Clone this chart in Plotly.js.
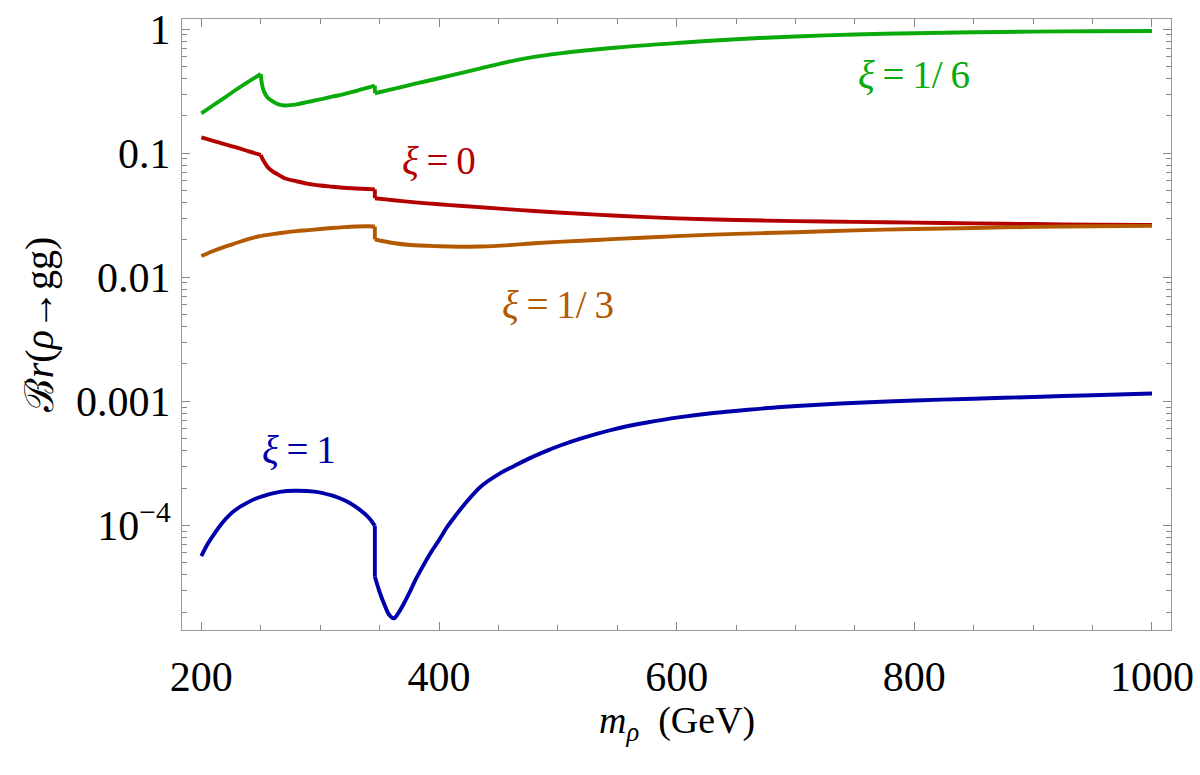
<!DOCTYPE html>
<html>
<head>
<meta charset="utf-8">
<script src="https://cdn.plot.ly/plotly-3.0.1.min.js"></script>
<style>html,body{margin:0;padding:0;background:#fff}#chart{width:1200px;height:775px}</style>
</head>
<body>
<div id="chart"></div>
<script>
// xi = 1/6 (green)
const xGreen = [200,210,220,230,240,250,251,253,256,260,265,270,280,290,300,310,320,330,340,346,346,360,380,400,420,435,460,480,500,550,600,650,700,750,800,850,900,950,1000];
const yGreen = [0.21,0.244,0.283,0.33,0.38,0.436,0.36,0.31,0.28,0.262,0.248,0.243,0.248,0.26,0.272,0.286,0.3,0.318,0.338,0.352,0.305,0.328,0.364,0.403,0.448,0.484,0.551,0.599,0.637,0.713,0.775,0.832,0.875,0.908,0.929,0.946,0.957,0.965,0.97];

// xi = 0 (red)
const xRed = [200,210,220,230,240,250,251,253,256,260,265,270,280,290,300,310,320,330,340,346,346,350,360,380,400,420,435,460,480,500,550,600,650,700,750,800,850,900,950,1000];
const yRed = [0.1345,0.126,0.118,0.111,0.1035,0.097,0.092,0.085,0.077,0.0715,0.067,0.063,0.0595,0.0567,0.055,0.0538,0.0527,0.052,0.0515,0.0512,0.0434,0.043,0.042,0.0402,0.0388,0.0376,0.0367,0.0353,0.0343,0.0333,0.0314,0.0299,0.029,0.0284,0.028,0.0276,0.0272,0.0269,0.0266,0.0264];

// xi = 1/3 (orange)
const xOrange = [200,210,220,230,240,250,260,270,280,290,300,310,320,330,340,346,346,350,360,376,400,418,435,460,480,500,550,600,650,700,750,800,850,900,950,1000];
const yOrange = [0.01485,0.0163,0.0177,0.019,0.0204,0.0216,0.0223,0.023,0.0236,0.024,0.0245,0.025,0.0254,0.0257,0.0258,0.0257,0.0202,0.0198,0.019,0.0182,0.0178,0.01766,0.0177,0.0182,0.0188,0.0193,0.0204,0.0215,0.0224,0.0231,0.0239,0.0245,0.025,0.0255,0.0258,0.026];

// xi = 1 (blue)
const xBlue = [200,205,210,217,224,231,238,245,252,259,266,278,295,309,316,323,330,337,342,346,346,350,354,358,362,366,370,375,380,386,393,400,407,414,421,435,452,463,477,491,502,519,547,575,603,631,660,688,716,738,800,850,900,950,1000];
const yBlue = [5.65e-5,7.0e-5,8.3e-5,1.03e-4,1.22e-4,1.38e-4,1.51e-4,1.63e-4,1.72e-4,1.8e-4,1.86e-4,1.9e-4,1.87e-4,1.75e-4,1.66e-4,1.55e-4,1.41e-4,1.25e-4,1.12e-4,9.9e-5,3.85e-5,2.9e-5,2.3e-5,1.9e-5,1.78e-5,1.98e-5,2.3e-5,2.85e-5,3.6e-5,4.6e-5,6.0e-5,7.6e-5,9.75e-5,1.2e-4,1.46e-4,2.05e-4,2.65e-4,3.0e-4,3.5e-4,4.0e-4,4.4e-4,5.0e-4,5.95e-4,6.75e-4,7.45e-4,8.05e-4,8.55e-4,9.0e-4,9.35e-4,9.6e-4,1.015e-3,1.05e-3,1.085e-3,1.12e-3,1.155e-3];

// kinks (threshold masses) where curves are not smooth
const kinksGreen = [250];
const kinksRed = [250];
const kinksOrange = [250];
const kinksBlue = [];

const yTickVals = [1e-4, 1e-3, 1e-2, 0.1, 1];
const yTickText = ['10<sup>\u22124</sup>', '0.001', '0.01', '0.1', '1'];

const seriesLabels = ['<i>\u03BE</i>\u2009=\u20091/\u20096', '<i>\u03BE</i>\u2009=\u20090', '<i>\u03BE</i>\u2009=\u20091/\u20093', '<i>\u03BE</i>\u2009=\u20091'];
const labelX = [800, 400, 500, 282];
const labelY = [0.43, 0.0867, 0.006, 4.1e-4];

const xTitle = '<i>m</i><sub><i>\u03C1</i></sub>\u00a0\u00a0(GeV)';
const yTitle = '\u212C<i>r</i>(<i>\u03C1</i>\u2192gg)';

const colors = ['#0aaa0a', '#b30000', '#b35900', '#0000aa'];

// minor tick positions for log axis (2..9 in each decade)
const minorY = [];
for (let e = -5; e <= 0; e++) for (let k = 2; k <= 9; k++) minorY.push(k * Math.pow(10, e));

const LW = 3.9;
function build(x, y, kinks, c) {
  // split into smooth pieces at vertical jumps (repeated x) and at kinks
  const traces = [];
  let cx = [x[0]], cy = [y[0]];
  const flush = () => { if (cx.length > 1) traces.push({x: cx, y: cy, type: 'scatter', mode: 'lines', line: {color: c, width: LW, shape: 'spline', smoothing: 0.9}, hoverinfo: 'skip', showlegend: false}); };
  for (let i = 1; i < x.length; i++) {
    if (x[i] === x[i - 1]) {
      flush();
      traces.push({x: [x[i - 1], x[i]], y: [y[i - 1], y[i]], type: 'scatter', mode: 'lines', line: {color: c, width: LW}, hoverinfo: 'skip', showlegend: false});
      cx = [x[i]]; cy = [y[i]];
    } else {
      cx.push(x[i]); cy.push(y[i]);
      if (kinks.indexOf(x[i]) >= 0) { flush(); cx = [x[i]]; cy = [y[i]]; }
    }
  }
  flush();
  return traces;
}
const data = [].concat(
  build(xGreen, yGreen, kinksGreen, colors[0]),
  build(xRed, yRed, kinksRed, colors[1]),
  build(xOrange, yOrange, kinksOrange, colors[2]),
  build(xBlue, yBlue, kinksBlue, colors[3])
);

const font = 'Liberation Serif, Times New Roman, serif';
const annotations = seriesLabels.map((t, i) => ({
  x: labelX[i], y: Math.log10(labelY[i]), xref: 'x', yref: 'y', text: t, showarrow: false,
  font: {family: font, size: 39, color: colors[i]}, xanchor: 'center', yanchor: 'middle'
}));
annotations.push({
  x: 0.5, y: -0.152, xref: 'paper', yref: 'paper', text: xTitle, showarrow: false,
  font: {family: font, size: 38, color: '#000'}, xanchor: 'center', yanchor: 'middle'
});

const layout = {
  width: 1200, height: 775,
  margin: {l: 182, r: 29, t: 19, b: 145},
  paper_bgcolor: '#fff', plot_bgcolor: '#fff',
  font: {family: font, color: '#000'},
  xaxis: {
    range: [183.7, 1016], showgrid: false, zeroline: false,
    showline: true, linecolor: '#999', linewidth: 1, mirror: 'ticks',
    ticks: 'inside', ticklen: 8, tickwidth: 1, tickcolor: '#888',
    tick0: 200, dtick: 200, tickfont: {size: 42, family: font},
    ticklabelstandoff: 10,
    minor: {ticks: 'inside', ticklen: 5, tickcolor: '#888', dtick: 50, tick0: 200, showgrid: false}
  },
  yaxis: {
    type: 'log', range: [-4.844, 0.083], showgrid: false, zeroline: false,
    showline: true, linecolor: '#999', linewidth: 1, mirror: 'ticks',
    ticks: 'inside', ticklen: 8, tickwidth: 1, tickcolor: '#888',
    tickmode: 'array', tickvals: yTickVals, ticktext: yTickText,
    tickfont: {size: 42, family: font}, ticklabelstandoff: 2,
    minor: {ticks: 'inside', ticklen: 5, tickcolor: '#888', tickmode: 'array', tickvals: minorY, showgrid: false},
    title: {text: yTitle, font: {size: 40, family: font}, standoff: 10}
  },
  annotations: annotations
};

Plotly.newPlot('chart', data, layout, {staticPlot: true, displayModeBar: false});
</script>
</body>
</html>
